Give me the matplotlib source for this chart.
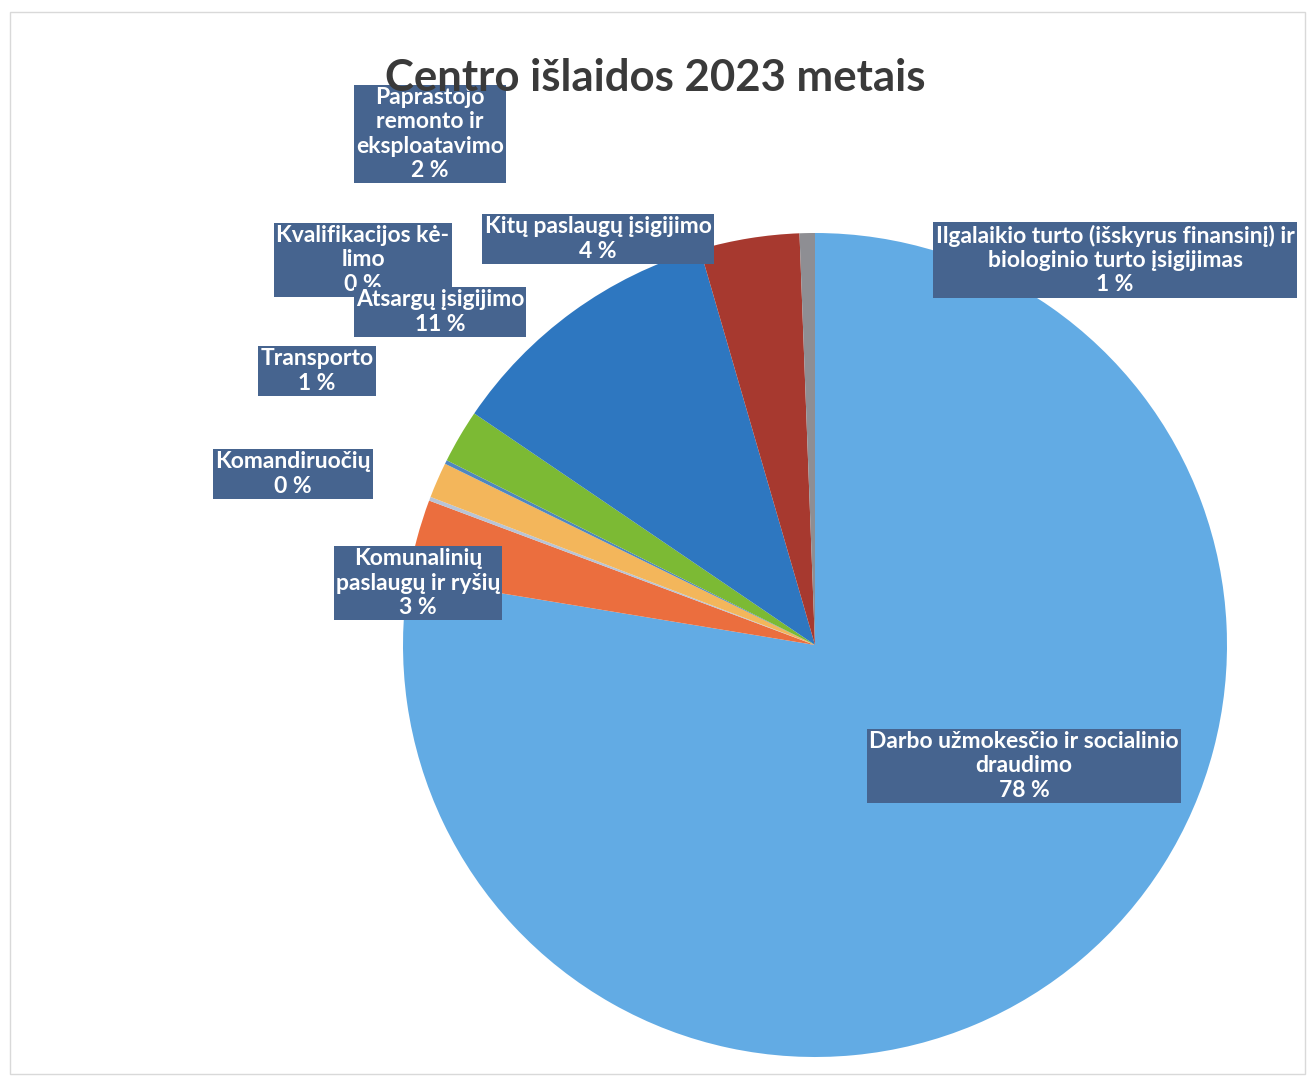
import matplotlib
matplotlib.use("Agg")
import matplotlib.pyplot as plt
from matplotlib.patches import Rectangle

# === Daten (Anteile in %) ===
kategorien = [
    "Darbo užmokesčio ir socialinio\ndraudimo",
    "Komunalinių\npaslaugų ir ryšių",
    "Komandiruočių",
    "Transporto",
    "Kvalifikacijos kė-\nlimo",
    "Paprastojo\nremonto ir\neksploatavimo",
    "Atsargų įsigijimo",
    "Kitų paslaugų įsigijimo",
    "Ilgalaikio turto (išskyrus finansinį) ir\nbiologinio turto įsigijimas",
]
anteile = [77.6, 3.1, 0.15, 1.4, 0.15, 2.1, 11.0, 3.9, 0.6]
farben = ["#62ABE4", "#EB6E3E", "#B8C4D6", "#F3B65B", "#4F86C0",
          "#7CBA34", "#2E77C0", "#A7392F", "#8E8E93"]

# Position der Beschriftungen (Pixel, y von oben)
label_pos = [(1024, 766), (418, 583), (293, 474), (317, 371), (363, 260),
             (430, 134), (440, 312), (598, 239), (1115, 260)]

W, H = 1316, 1078
fig = plt.figure(figsize=(W / 100, H / 100), dpi=100)
ax = fig.add_axes([0, 0, 1, 1])

# leichter Rahmen des Diagrammbereichs
ax.add_patch(Rectangle((10, 4), 1295, 1062, fill=False, edgecolor="#D9D9D9", lw=1))

ax.pie(anteile, colors=farben, startangle=90, counterclock=False,
       center=(815, H - 645), radius=412, frame=True,
       wedgeprops=dict(linewidth=0))
ax.set_xlim(0, W)
ax.set_ylim(0, H)
ax.set_aspect("equal")
ax.axis("off")

# === Beschriftungen ===
for name, wert, (x, y) in zip(kategorien, anteile, label_pos):
    ax.text(x, H - y, f"{name}\n{round(wert)} %", ha="center", va="center",
            multialignment="center", color="white", fontsize=16.5,
            fontweight="bold", family="Lato", linespacing=1.2,
            bbox=dict(boxstyle="square,pad=0.1", facecolor="#46648F",
                      edgecolor="none"))

ax.text(655, H - 78, "Centro išlaidos 2023 metais", ha="center", va="center",
        fontsize=31.5, fontweight="bold", family="Lato", color="#3A3A3A")

fig.savefig("out.png", dpi=100)
